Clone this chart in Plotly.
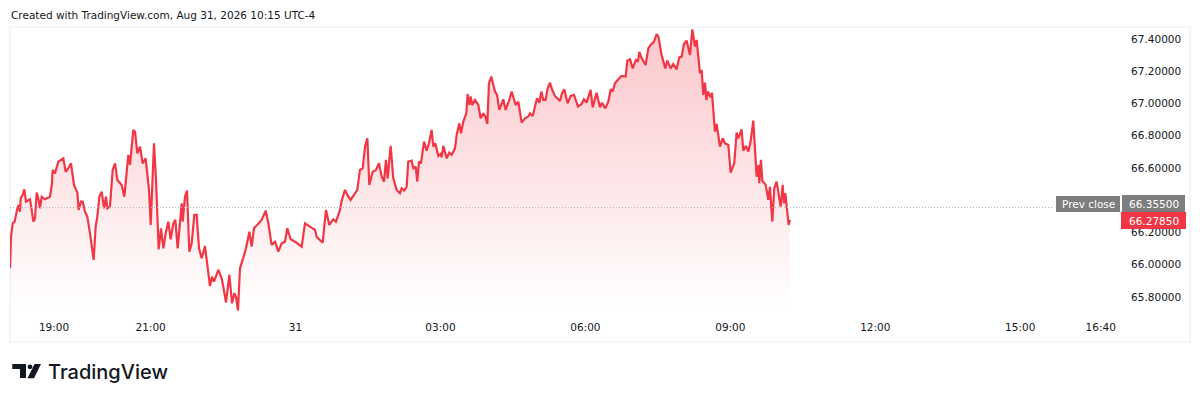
import plotly.graph_objects as go

# minutes after 18:00 on Aug 30, 2026
minutes = [5.4,6.6,8.7,11.1,13.6,15.7,17.8,18.6,21.1,23.2,25.2,28.1,30.2,32.3,34.3,36.4,38.5,40.5,42.6,44.7,48.8,55.0,57.5,58.3,61.2,65.4,71.6,74.5,77.8,81.1,84.8,89.0,90.6,93.5,95.6,98.5,101.4,104.7,106.8,109.3,111.7,113.8,116.3,119.2,122.1,124.6,126.2,129.5,132.9,135.8,138.7,144.0,147.4,150.2,152.3,154.4,158.5,160.6,163.5,166.8,170.1,173.8,178.0,180.1,184.2,186.7,188.3,190.0,192.9,195.8,198.7,202.0,204.9,208.2,210.7,213.6,218.6,219.8,222.7,225.2,228.1,231.0,234.3,237.2,240.1,243.4,247.5,250.4,253.7,256.2,258.7,264.1,268.2,270.3,273.6,277.8,281.1,284.0,286.0,288.5,291.0,294.3,298.5,302.6,305.5,308.4,313.8,317.9,322.9,326.2,330.3,334.5,338.6,342.8,346.9,349.8,353.9,359.3,367.6,371.7,377.9,384.2,386.2,393.7,397.8,401.9,406.9,410.2,415.2,417.3,421.4,424.3,428.4,436.7,440.0,443.4,446.3,449.2,451.6,455.8,459.9,463.6,467.0,469.9,472.3,474.4,478.1,481.4,485.6,
489.7,491.8,494.7,498.0,500.0,504.2,506.3,509.2,511.2,513.3,515.8,519.5,522.8,525.7,529.0,531.1,533.6,537.3,540.2,541.5,543.5,547.7,551.0,553.9,558.0,560.1,563.4,565.5,568.4,572.1,573.7,575.8,577.5,579.5,582.9,587.0,589.9,593.2,595.7,598.2,600.2,603.1,605.6,607.7,610.2,613.1,618.0,620.9,625.5,628.4,633.4,636.7,640.8,644.9,649.1,651.2,654.5,657.4,659.9,662.8,665.2,667.7,670.6,673.1,676.0,678.5,682.2,688.4,690.9,693.8,697.9,701.7,705.8,710.8,715.3,718.2,721.5,726.5,729.0,733.9,738.1,740.6,744.7,748.5,751.4,753.8,756.7,760.9,765.0,770.0,772.0,775.4,778.7,782.8,785.3,787.0,789.9,794.8,798.1,801.0,805.2,808.5,810.6,814.7,819.2,821.7,825.9,829.2,833.3,836.6,839.5,842.4,845.7,849.9,852.8,856.1,858.2,862.3,864.4,866.4,868.5,870.2,872.2,875.5,877.2,880.9,883.0,887.1,890.5,893.4,897.5,900.4,904.9,907.8,909.9,914.0,916.1,919.4,922.3,925.2,928.5,932.7,935.2,936.0,938.0,939.7,943.9,947.2,949.2,952.1,954.6,957.5,962.5,965.0,966.6,968.3,972.4,974.0]

prices = [65.978,66.174,66.257,66.267,66.329,66.371,66.329,66.412,66.433,66.468,66.391,66.402,66.406,66.340,66.267,66.288,66.447,66.412,66.350,66.422,66.406,66.422,66.505,66.588,66.567,66.639,66.660,66.577,66.598,66.629,66.495,66.447,66.340,66.391,66.391,66.329,66.298,66.195,66.112,66.030,66.236,66.298,66.422,66.453,66.350,66.422,66.350,66.360,66.588,66.629,66.526,66.495,66.422,66.588,66.681,66.619,66.836,66.826,66.691,66.733,66.629,66.660,66.464,66.247,66.753,66.526,66.278,66.096,66.226,66.102,66.195,66.267,66.158,66.257,66.278,66.102,66.381,66.267,66.422,66.460,66.081,66.133,66.309,66.309,66.102,66.040,66.116,65.988,65.868,65.926,65.895,65.968,65.916,65.864,65.765,65.937,65.761,65.823,65.802,65.716,65.978,66.030,66.102,66.205,66.112,66.226,66.257,66.278,66.336,66.257,66.123,66.143,66.081,66.133,66.143,66.226,66.158,66.143,66.112,66.257,66.236,66.216,66.174,66.137,66.340,66.247,66.282,66.267,66.340,66.398,66.464,66.433,66.402,66.464,66.588,66.598,66.733,66.784,66.495,66.577,66.588,66.629,66.546,66.515,66.650,66.536,66.737,66.536,66.464,
66.443,66.474,66.460,66.484,66.640,66.646,66.598,66.609,66.516,66.640,66.629,66.764,66.708,66.753,66.836,66.733,66.753,66.675,66.687,66.666,66.737,66.660,66.695,66.681,66.722,66.805,66.877,66.815,66.888,66.939,67.059,66.991,67.043,66.991,67.022,66.991,66.908,66.939,66.919,66.873,67.125,67.167,67.115,67.074,67.053,66.960,67.026,66.960,67.022,67.074,66.991,67.012,66.881,66.908,66.919,66.939,66.923,66.991,67.032,67.005,67.074,67.022,67.022,67.094,67.129,67.088,67.047,67.016,67.063,67.088,67.001,67.047,67.053,66.981,66.997,67.026,67.005,67.084,66.976,67.067,66.976,67.005,66.970,67.012,67.088,67.074,67.125,67.150,67.171,67.167,67.266,67.274,67.218,67.270,67.260,67.320,67.280,67.239,67.342,67.363,67.384,67.431,67.415,67.301,67.218,67.266,67.218,67.245,67.212,67.286,67.291,67.369,67.390,67.301,67.460,67.353,67.394,67.187,67.208,67.053,67.129,67.022,67.074,67.038,67.067,66.826,66.873,66.733,66.784,66.753,66.743,66.571,66.629,66.819,66.784,66.840,66.708,66.737,66.702,66.764,66.894,66.546,66.619,66.505,66.650,66.522,66.495,66.402,66.484,66.267,66.474,66.515,66.360,66.495,66.381,66.443,66.247,66.2785]

time_tick_minutes = [60, 180, 360, 540, 720, 900, 1080, 1260, 1360]
time_tick_labels = ["19:00", "21:00", "31", "03:00", "06:00", "09:00", "12:00", "15:00", "16:40"]
price_ticks = [65.8, 66.0, 66.2, 66.6, 66.8, 67.0, 67.2, 67.4]
prev_close = 66.355
last_price = 66.2785

W, H = 1200, 401
RED = "#f23645"
INK = "#131722"
GREY = "#7e7e7e"
FONT = "DejaVu Sans"

def px(x): return x / W
def py(y): return 1 - y / H

pane_l, pane_r, pane_t, pane_b = 10, 1123, 27, 315
x_range = [5.35, 60 + (pane_r - 54) * 1.242]
y_range = [67.4 - (pane_b - 39) / 161.25, 67.4 + (39 - pane_t) / 161.25]

fig = go.Figure(go.Scatter(
    x=minutes, y=prices, mode="lines",
    line=dict(color=RED, width=2.2),
    fill="tozeroy",
    fillgradient=dict(type="vertical", start=67.46, stop=65.72,
                      colorscale=[[0, "rgba(242,54,69,0.28)"], [1, "rgba(242,54,69,0.0)"]]),
    hoverinfo="skip", showlegend=False,
))

shapes = []
shapes.append(dict(type="rect", xref="paper", yref="paper", x0=px(10), x1=px(1190), y0=py(342), y1=py(27),
                   line=dict(color="#f0f3fa", width=1.5), fillcolor="rgba(0,0,0,0)", layer="below"))
shapes.append(dict(type="line", xref="paper", yref="y", x0=px(10), x1=px(1054), y0=prev_close, y1=prev_close,
                   line=dict(color="#b2b5be", width=1, dash="1px,2px")))
for x0, x1, y0, y1, c in [(1056, 1120, 196, 212, GREY), (1122, 1185, 195, 212, GREY), (1121, 1186, 212, 229, RED)]:
    shapes.append(dict(type="rect", xref="paper", yref="paper", x0=px(x0), x1=px(x1), y0=py(y1), y1=py(y0),
                       line=dict(width=0), fillcolor=c))

def poly(pts):
    return "M" + " L".join(f"{px(a):.5f},{py(b):.5f}" for a, b in pts) + " Z"
shapes.append(dict(type="path", xref="paper", yref="paper", line=dict(width=0), fillcolor=INK,
                   path=poly([(12.3, 364), (26, 364), (26, 378), (20, 378), (20, 369), (12.3, 369)])))
shapes.append(dict(type="path", xref="paper", yref="paper", line=dict(width=0), fillcolor=INK,
                   path=poly([(34.5, 364), (41, 364), (34, 378.3), (27.5, 378.3)])))
shapes.append(dict(type="circle", xref="paper", yref="paper", line=dict(width=0), fillcolor=INK,
                   x0=px(27.6), x1=px(32.4), y0=py(369.2), y1=py(364.4)))

def label(x, y, text, color=INK, size=10.5, xanchor="left", family=FONT, weight=None):
    f = dict(color=color, size=size, family=family)
    if weight: f["weight"] = weight
    return dict(xref="paper", yref="paper", x=px(x), y=py(y), text=text, showarrow=False,
                xanchor=xanchor, yanchor="middle", font=f, borderpad=0)

annotations = [
    label(10, 15, "Created with TradingView.com, Aug 31, 2026 10:15 UTC-4"),
    label(1088, 204, "Prev close", color="white", xanchor="center"),
    label(1153.5, 204, f"{prev_close:.5f}", color="white", xanchor="center"),
    label(1153.5, 220.5, f"{last_price:.5f}", color="white", xanchor="center"),
    label(47, 372, "TradingView", size=20, family="Inter", weight=500),
]

fig.update_layout(
    width=W, height=H, autosize=False,
    margin=dict(l=0, r=0, t=0, b=0),
    paper_bgcolor="white", plot_bgcolor="white",
    showlegend=False, shapes=shapes, annotations=annotations,
    font=dict(family=FONT, size=10.5, color=INK),
    xaxis=dict(domain=[px(pane_l), px(pane_r)], range=x_range, tickmode="array",
               tickvals=time_tick_minutes, ticktext=time_tick_labels,
               showgrid=False, zeroline=False, showline=False,
               ticks="outside", ticklen=2, tickcolor="rgba(0,0,0,0)"),
    yaxis=dict(domain=[py(pane_b), py(pane_t)], range=y_range, side="right", tickmode="array",
               tickvals=price_ticks, ticktext=[f"{v:.5f}" for v in price_ticks],
               showgrid=False, zeroline=False, showline=False,
               ticks="outside", ticklen=5, tickcolor="rgba(0,0,0,0)"),
)
fig.write_html("out.html", config=dict(displayModeBar=False),
               post_script="document.body.style.margin='0';")
